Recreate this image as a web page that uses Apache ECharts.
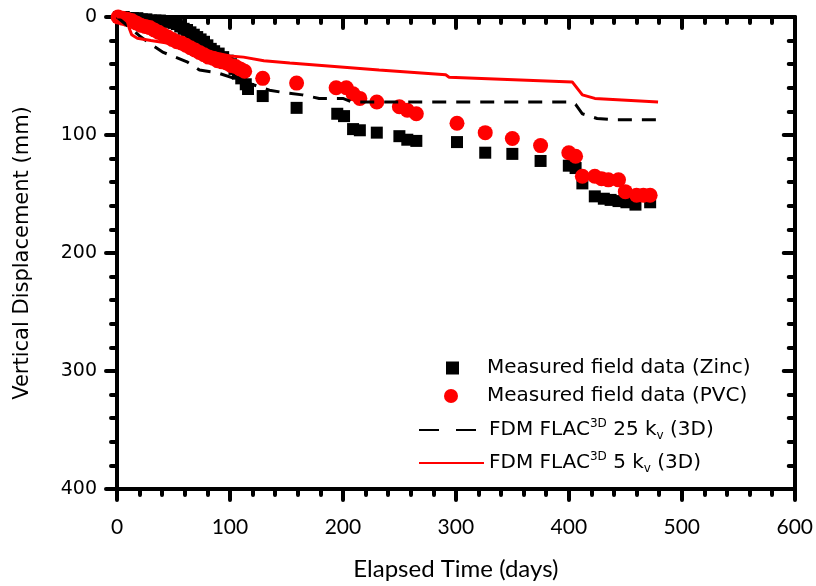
<!DOCTYPE html>
<html>
<head>
<meta charset="utf-8">
<title>Vertical displacement vs elapsed time</title>
<script src="https://cdn.jsdelivr.net/npm/echarts@6/dist/echarts.min.js"></script>
<style>
    html, body { margin: 0; padding: 0; background: #fff; }
    #chart { width: 816px; height: 586px; }
</style>
</head>
<body>
<div id="chart"></div>
<script type="text/javascript">
    // tick labels of the two axes
    var xTicks = [0, 100, 200, 300, 400, 500, 600];
    var yTicks = [0, 100, 200, 300, 400];

    // series names as used by the legend
    var names = [
        'Measured field data (Zinc)',
        'Measured field data (PVC)',
        'FDM FLAC3D 25 kv (3D)',
        'FDM FLAC3D 5 kv (3D)'
    ];

    // measured field data, [elapsed days, settlement mm]
    var zincData = [
        [2, 0], [6, 0], [10, 1], [14, 1], [18, 1], [22, 2], [26, 2], [30, 3], [34, 3], [38, 3],
        [42, 4], [46, 4], [50, 5], [53, 6], [56, 8], [59, 10], [62, 11], [65, 13], [68, 15],
        [71, 17], [74, 19], [77, 21], [80, 24], [83, 27], [86, 29], [90, 31], [94, 34], [98, 37],
        [101, 40], [104, 44], [107, 48], [110, 52], [114, 57], [116, 61], [129, 67], [159, 77],
        [195, 82], [201, 84], [209, 95], [215, 96], [230, 98], [250, 101], [257, 104], [265, 105],
        [301, 106], [326, 115], [350, 116], [375, 122], [400, 126], [406, 128], [412, 141],
        [423, 152], [431, 154], [437, 155], [444, 156], [451, 157], [459, 159], [472, 157]
    ];
    var pvcData = [
        [1, 0], [5, 1], [9, 2], [13, 3], [17, 5], [21, 7], [25, 8], [29, 9], [33, 11], [37, 13],
        [41, 15], [45, 17], [49, 19], [53, 21], [57, 22], [61, 24], [65, 26], [69, 28], [73, 30],
        [77, 32], [81, 34], [85, 35], [89, 37], [93, 38], [97, 39], [101, 41], [105, 42],
        [109, 44], [113, 46], [129, 52], [159, 56], [194, 60], [203, 60], [209, 65], [215, 69],
        [230, 72], [250, 76], [257, 79], [265, 82], [301, 90], [326, 98], [350, 103], [375, 109],
        [400, 115], [406, 118], [412, 135], [423, 135], [429, 137], [435, 138], [444, 138],
        [450, 148], [460, 151], [466, 151], [472, 151]
    ];

    // FLAC3D predictions
    var flac25kv = [
        [0, 0], [10, 8], [20, 16], [30, 23], [41, 30], [62, 38], [73, 45], [88, 47], [110, 54],
        [135, 62], [147, 64], [164, 66], [179, 69], [200, 69], [208, 72], [240, 72], [300, 72],
        [350, 72], [403, 72], [406, 74], [412, 82], [425, 86], [440, 87], [480, 87]
    ];
    var flac5kv = [
        [0, 0], [6, 0], [9, 3], [11, 10], [13, 15], [18, 18], [30, 20], [50, 23], [70, 26],
        [85, 30], [100, 33], [112, 34], [130, 37], [153, 39], [232, 45], [291, 49], [294, 51],
        [403, 55], [412, 66], [423, 69], [479, 72]
    ];

    var legendLabels = {
        'Measured field data (Zinc)': 'Measured field data (Zinc)',
        'Measured field data (PVC)': 'Measured field data (PVC)',
        'FDM FLAC3D 25 kv (3D)': 'FDM FLAC{sup|3D} 25 k{sub|v} (3D)',
        'FDM FLAC3D 5 kv (3D)': 'FDM FLAC{sup|3D} 5 k{sub|v} (3D)'
    };

    var black = '#000000';
    var red = '#ff0000';

    function axisBase(pos, inside, showLabel) {
        return {
            type: 'value',
            position: pos,
            axisLine: {onZero: false, lineStyle: {color: black, width: 4}},
            axisTick: {inside: inside, length: 11, lineStyle: {color: black, width: 4, cap: 'round'}},
            minorTick: {show: true, splitNumber: 5, length: 6, lineStyle: {color: black, width: 4, cap: 'round'}},
            splitLine: {show: false},
            axisLabel: {show: showLabel}
        };
    }

    var xBottom = axisBase('bottom', false, true);
    xBottom.min = xTicks[0];
    xBottom.max = xTicks[xTicks.length - 1];
    xBottom.interval = xTicks[1] - xTicks[0];
    xBottom.name = 'Elapsed Time (days)';
    xBottom.nameLocation = 'middle';
    xBottom.nameGap = 68;
    xBottom.nameTextStyle = {fontFamily: 'Lato', fontSize: 24, color: black};
    xBottom.axisLabel = {show: true, margin: 28, fontFamily: 'Lato', fontSize: 21, color: black};

    var xTop = axisBase('top', true, false);
    xTop.min = xBottom.min;
    xTop.max = xBottom.max;
    xTop.interval = xBottom.interval;

    var yLeft = axisBase('left', false, true);
    yLeft.inverse = true;
    yLeft.min = yTicks[0];
    yLeft.max = yTicks[yTicks.length - 1];
    yLeft.interval = yTicks[1] - yTicks[0];
    yLeft.name = 'Vertical Displacement (mm)';
    yLeft.nameLocation = 'middle';
    yLeft.nameGap = 84;
    yLeft.nameTextStyle = {fontFamily: 'DejaVu Sans', fontSize: 21, color: black};
    yLeft.axisLabel = {show: true, margin: 20, fontFamily: 'DejaVu Sans', fontSize: 19, color: black};

    var yRight = axisBase('right', true, false);
    yRight.inverse = true;
    yRight.min = yLeft.min;
    yRight.max = yLeft.max;
    yRight.interval = yLeft.interval;

    function legendText(padLeft) {
        return {
            fontFamily: 'DejaVu Sans', fontSize: 20, color: black, lineHeight: 24,
            padding: [0, 0, 0, padLeft],
            rich: {
                sup: {fontFamily: 'DejaVu Sans', fontSize: 12, verticalAlign: 'top', lineHeight: 12},
                sub: {fontFamily: 'DejaVu Sans', fontSize: 12, verticalAlign: 'bottom', lineHeight: 12}
            }
        };
    }

    // one legend box per row so that every row sits where it does in the figure
    function oneLegend(name, left, top, w, h, padLeft, lineType) {
        var lg = {
            data: [name],
            left: left,
            top: top,
            itemWidth: w,
            itemHeight: h,
            selectedMode: false,
            textStyle: legendText(padLeft),
            formatter: function (n) { return legendLabels[n]; }
        };
        if (lineType !== undefined) {
            lg.itemStyle = {opacity: 0};
            lg.lineStyle = {type: lineType};
        }
        return lg;
    }

    var chart = echarts.init(document.getElementById('chart'));
    var option = {
        animation: false,
        backgroundColor: '#fff',
        grid: {left: 117, right: 19, top: 17, bottom: 97, containLabel: false},
        xAxis: [xBottom, xTop],
        yAxis: [yLeft, yRight],
        legend: [
            oneLegend(names[0], 441, 351, 13, 13, 23),
            oneLegend(names[1], 439, 379, 14, 14, 24),
            oneLegend(names[2], 413, 413, 65, 4, 0, [20, 17]),
            oneLegend(names[3], 413, 446, 65, 4, 0, 'solid')
        ],
        series: [
            {
                name: names[0], type: 'scatter', symbol: 'rect', symbolSize: 12,
                itemStyle: {color: black, opacity: 1}, data: zincData
            },
            {
                name: names[1], type: 'scatter', symbol: 'circle', symbolSize: 15,
                itemStyle: {color: red, opacity: 1}, data: pvcData
            },
            {
                name: names[2], type: 'line', symbol: 'none',
                lineStyle: {color: black, width: 3, type: [14, 10]},
                itemStyle: {color: black}, data: flac25kv
            },
            {
                name: names[3], type: 'line', symbol: 'none',
                lineStyle: {color: red, width: 3},
                itemStyle: {color: red}, data: flac5kv
            }
        ]
    };
    chart.setOption(option);
</script>
</body>
</html>
